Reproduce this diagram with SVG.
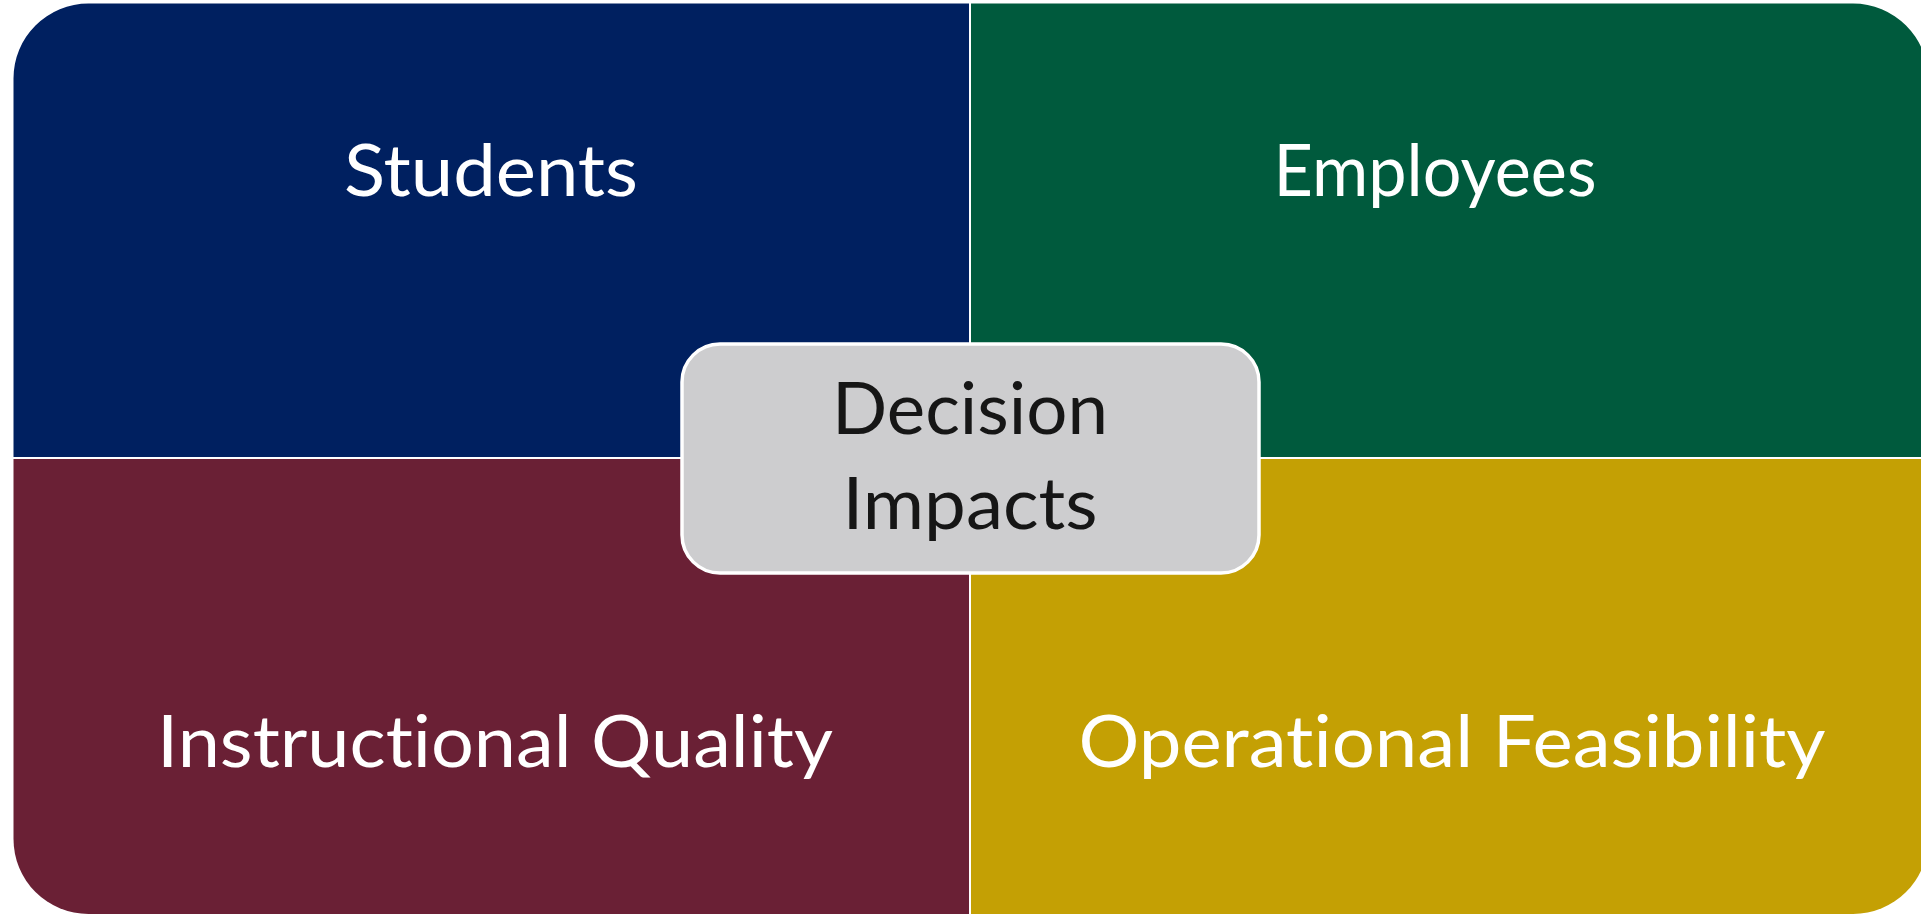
<svg xmlns="http://www.w3.org/2000/svg" width="1921" height="915" viewBox="0 0 1921 915">
<style>
text{font-variant-ligatures:none;font-feature-settings:"liga" 0,"clig" 0,"dlig" 0}
.q text{font-family:Lato,"Open Sans","Liberation Sans",sans-serif;font-size:72px;fill:#ffffff;text-anchor:middle}
#center text{font-family:Lato,"Open Sans","Liberation Sans",sans-serif;font-size:72px;fill:#161616;text-anchor:middle}
</style>
<rect x="0" y="0" width="1921" height="915" fill="#ffffff"/>
<g id="students" class="q">
<path d="M88.5,3.5 H969 V457 H13.5 V78.5 A75,75 0 0 1 88.5,3.5 Z" fill="#002060"/>
<text x="491" y="196" textLength="294" lengthAdjust="spacingAndGlyphs">Students</text>
</g>
<g id="employees" class="q">
<path d="M971,3.5 H1853 A75,75 0 0 1 1928,78.5 V457 H971 Z" fill="#005A3D"/>
<text x="1435" y="196" textLength="323" lengthAdjust="spacingAndGlyphs">Employees</text>
</g>
<g id="instructional" class="q">
<path d="M13.5,459 H969 V914 H88.5 A75,75 0 0 1 13.5,839 Z" fill="#6A2035"/>
<text x="495" y="767" textLength="676" lengthAdjust="spacingAndGlyphs">Instructional Quality</text>
</g>
<g id="operational" class="q">
<path d="M971,459 H1928 V839 A75,75 0 0 1 1853,914 H971 Z" fill="#C4A004"/>
<text x="1452" y="767" textLength="747" lengthAdjust="spacingAndGlyphs">Operational Feasibility</text>
</g>
<g id="connectors"></g>
<g id="center">
<rect x="682" y="344" width="577" height="229" rx="38" ry="38" fill="#CDCDCF" stroke="#ffffff" stroke-width="3.5"/>
<text x="970" y="434" textLength="276" lengthAdjust="spacingAndGlyphs">Decision</text>
<text x="970" y="529" textLength="255" lengthAdjust="spacingAndGlyphs">Impacts</text>
</g>
</svg>
